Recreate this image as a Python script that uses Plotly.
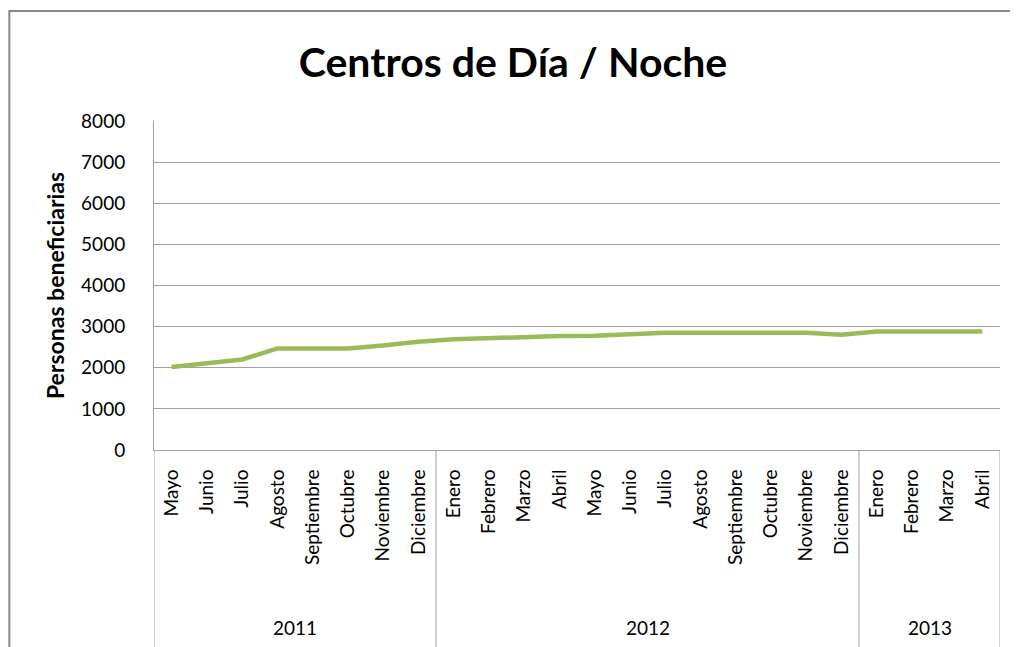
import plotly.graph_objects as go

# datos
meses = [
    "Mayo", "Junio", "Julio", "Agosto", "Septiembre", "Octubre", "Noviembre", "Diciembre",
    "Enero", "Febrero", "Marzo", "Abril", "Mayo", "Junio", "Julio", "Agosto",
    "Septiembre", "Octubre", "Noviembre", "Diciembre",
    "Enero", "Febrero", "Marzo", "Abril",
]
anios = ["2011", "2012", "2013"]
meses_por_anio = [8, 12, 4]
beneficiarios = [
    2020, 2110, 2200, 2470, 2470, 2470, 2540, 2630,
    2690, 2720, 2750, 2770, 2780, 2820, 2850, 2850,
    2850, 2850, 2850, 2800,
    2880, 2880, 2880, 2880,
]

FONT = "Lato"
GRIS = "#A0A0A0"

x_idx = list(range(len(meses)))

fig = go.Figure(
    go.Scatter(
        x=x_idx,
        y=beneficiarios,
        mode="lines",
        line=dict(color="#9BBB59", width=4.5),
        showlegend=False,
    )
)

# separadores y etiquetas de año
shapes = []
annotations = []
inicio = 0
for anio, n in zip(anios, meses_por_anio):
    shapes.append(dict(
        type="line", xref="x", yref="paper",
        x0=inicio - 0.5, x1=inicio - 0.5, y0=0, y1=-0.6,
        line=dict(color=GRIS, width=1),
    ))
    annotations.append(dict(
        x=inicio + (n - 1) / 2, xref="x",
        y=-0.538, yref="paper", yanchor="middle",
        text=anio, showarrow=False,
        font=dict(family=FONT, size=19, color="black"),
    ))
    inicio += n
shapes.append(dict(
    type="line", xref="x", yref="paper",
    x0=inicio - 0.5, x1=inicio - 0.5, y0=0, y1=-0.6,
    line=dict(color=GRIS, width=1),
))

# borde exterior del gráfico (solo lados izquierdo y superior visibles)
shapes.append(dict(
    type="path", xref="paper", yref="paper",
    path="M -0.171,-0.7 L -0.171,1.334 L 1.05,1.334",
    line=dict(color="#888888", width=2),
))

# la página deja 8 px de margen, por eso el tamaño es 1010x639
fig.update_layout(
    width=1010,
    height=639,
    margin=dict(l=146, r=18, t=113, b=197),
    paper_bgcolor="white",
    plot_bgcolor="white",
    font=dict(family=FONT, size=19, color="black"),
    title=dict(
        text="<b>Centros de Día / Noche</b>",
        x=0.5, xanchor="center",
        y=0.915, yanchor="middle",
        font=dict(family=FONT, size=41, color="black"),
    ),
    xaxis=dict(
        range=[-0.5, len(meses) - 0.5],
        tickmode="array",
        tickvals=x_idx,
        ticktext=meses,
        tickangle=-90,
        showline=True,
        linecolor=GRIS,
        showgrid=False,
        zeroline=False,
        ticks="",
        ticklabelstandoff=11,
        tickfont=dict(size=19),
        automargin=False,
    ),
    yaxis=dict(
        range=[0, 8000],
        dtick=1000,
        showgrid=True,
        gridcolor=GRIS,
        showline=True,
        linecolor=GRIS,
        zeroline=False,
        ticks="",
        ticklabelstandoff=24,
        tickfont=dict(size=19),
        automargin=False,
        title=dict(text="<b>Personas beneficiarias</b>", font=dict(size=23), standoff=10),
    ),
    shapes=shapes,
    annotations=annotations,
)

fig.write_html("out.html")
